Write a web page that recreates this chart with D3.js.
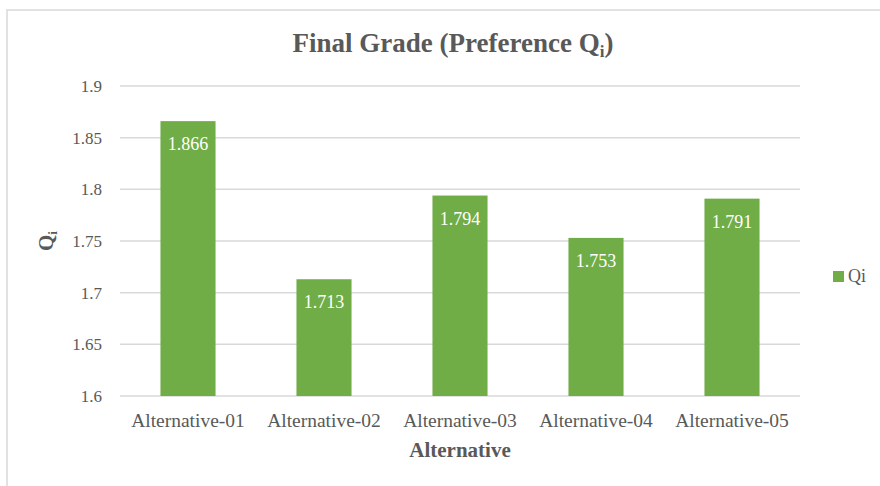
<!DOCTYPE html>
<html><head><meta charset="utf-8">
<script src="https://cdn.jsdelivr.net/npm/d3@7"></script>
<style>html,body{margin:0;padding:0;background:#fff;}svg{display:block;}svg text{font-family:"Liberation Serif","Times New Roman",serif;}</style>
</head><body>
<svg id="chart" width="880" height="486"></svg>
<script>
const categories = ["Alternative-01","Alternative-02","Alternative-03","Alternative-04","Alternative-05"];
const values = [1.866, 1.713, 1.794, 1.753, 1.791];
const yTicks = [1.6, 1.65, 1.7, 1.75, 1.8, 1.85, 1.9];
const seriesName = "Qi";

const svg = d3.select("#chart");
const font = '"Liberation Serif", "Times New Roman", serif';
const grey = "#595959";
const green = "#70ad47";

// outer chart border
svg.append("rect").attr("x",7).attr("y",10).attr("width",900).attr("height",500)
  .attr("fill","#fff").attr("stroke","#d9d9d9").attr("stroke-width",1.5);

const plotLeft = 120, plotRight = 800, plotTop = 86, plotBottom = 396;
const x = d3.scaleBand().domain(categories).range([plotLeft,plotRight]).paddingInner(0.595).paddingOuter(0.2975);
const y = d3.scaleLinear().domain([1.6,1.9]).range([plotBottom,plotTop]);

// gridlines
svg.append("g").selectAll("line").data(yTicks).join("line")
  .attr("x1",plotLeft).attr("x2",plotRight)
  .attr("y1",d=>y(d)).attr("y2",d=>y(d))
  .attr("stroke","#d9d9d9").attr("stroke-width",1.5);

// y axis labels
const yAxis = d3.axisLeft(y).tickValues(yTicks).tickSize(0).tickPadding(0).tickFormat(d=>String(+d.toFixed(2)));
const gy = svg.append("g").attr("transform",`translate(${102},0)`).call(yAxis);
gy.select(".domain").remove();
gy.attr("font-family",null).attr("font-size",null);
gy.selectAll("text").style("font-family",font).style("font-size","17px").attr("fill",grey).attr("dy","0.32em");

// bars
svg.append("g").selectAll("rect").data(values).join("rect")
  .attr("x",(d,i)=>x(categories[i])).attr("width",x.bandwidth())
  .attr("y",d=>y(d)).attr("height",d=>plotBottom-y(d))
  .attr("fill",green);

// data labels
svg.append("g").selectAll("text").data(values).join("text")
  .attr("x",(d,i)=>x(categories[i])+x.bandwidth()/2)
  .attr("y",d=>y(d)+29)
  .attr("text-anchor","middle").style("font-family",font).style("font-size","18px")
  .attr("fill","#fff").text(d=>d.toFixed(3));

// x axis labels
const xAxis = d3.axisBottom(x).tickSize(0).tickPadding(0);
const gx = svg.append("g").attr("transform",`translate(0,${427})`).call(xAxis);
gx.select(".domain").remove();
gx.attr("font-family",null).attr("font-size",null);
gx.selectAll("text").style("font-family",font).style("font-size","19.5px").attr("fill",grey).attr("dy",0).attr("y",0);

// title
const title = svg.append("text").attr("x",453).attr("y",52).attr("text-anchor","middle")
  .style("font-family",font).style("font-size","27px").attr("font-weight","bold").attr("fill",grey);
title.append("tspan").text("Final Grade (Preference Q");
title.append("tspan").style("font-size","17px").attr("dy",5).text("i");
title.append("tspan").attr("dy",-5).text(")");

// x axis title
svg.append("text").attr("x",460).attr("y",457).attr("text-anchor","middle")
  .style("font-family",font).style("font-size","21px").attr("font-weight","bold").attr("fill",grey)
  .text("Alternative");

// y axis title
const yt = svg.append("text").attr("transform",`translate(53,241) rotate(-90)`).attr("text-anchor","middle")
  .style("font-family",font).style("font-size","21px").attr("font-weight","bold").attr("fill",grey);
yt.append("tspan").text("Q");
yt.append("tspan").style("font-size","13px").attr("dy",4).text("i");

// legend
const lg = svg.append("g");
lg.append("rect").attr("x",833).attr("y",271).attr("width",11).attr("height",11).attr("fill",green);
lg.append("text").attr("x",848).attr("y",282).style("font-family",font).style("font-size","18px").attr("fill",grey).text(seriesName);
</script>
</body></html>
